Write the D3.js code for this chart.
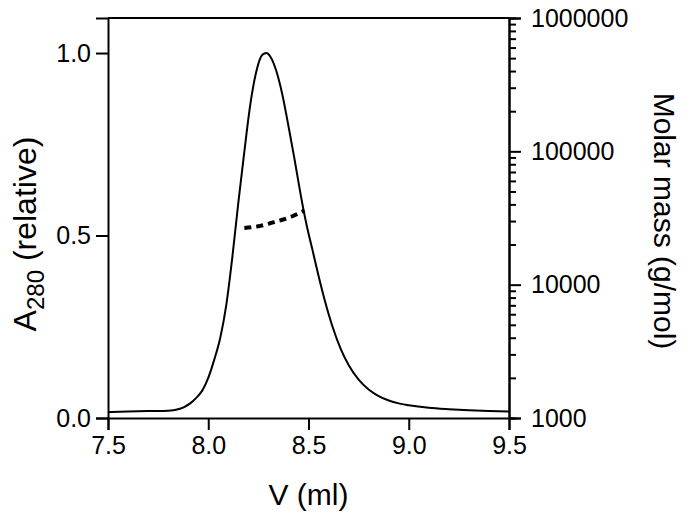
<!DOCTYPE html>
<html>
<head>
<meta charset="utf-8">
<script src="https://cdn.jsdelivr.net/npm/d3@7"></script>
<style>
  body { margin: 0; background: #fff; }
  svg { display: block; font-family: "Liberation Sans", Arial, sans-serif; }
  .axis path, .axis line { stroke: #000; stroke-width: 2px; }
  .axis text { font-size: 25px; fill: #000; }
</style>
</head>
<body>
<div id="chart"></div>
<script>
// DATA
// ------------------------------------------------------------------

// UV trace (A280, relative) vs elution volume
var volume = [7.50, 7.60, 7.70, 7.80, 7.85, 7.88, 7.91, 7.94, 7.97, 8.00,
              8.03, 8.06, 8.09, 8.12, 8.15, 8.18, 8.21, 8.24, 8.27, 8.29,
              8.31, 8.34, 8.37, 8.40, 8.43, 8.46, 8.49, 8.52, 8.55, 8.58,
              8.62, 8.66, 8.70, 8.75, 8.80, 8.85, 8.90, 8.95, 9.00, 9.10,
              9.20, 9.30, 9.40, 9.50];
var absorbance = [0.016, 0.018, 0.019, 0.020, 0.024, 0.030, 0.040, 0.055, 0.075, 0.11,
                  0.16, 0.22, 0.31, 0.44, 0.59, 0.73, 0.86, 0.95, 0.995, 1.0,
                  0.99, 0.95, 0.885, 0.80, 0.71, 0.615, 0.53, 0.46, 0.39, 0.325,
                  0.25, 0.19, 0.145, 0.105, 0.078, 0.060, 0.048, 0.040, 0.035, 0.028,
                  0.024, 0.021, 0.019, 0.018];

// molar mass across the peak
var massVolume = [8.18, 8.22, 8.26, 8.30, 8.34, 8.38, 8.42, 8.46, 8.48];
var molarMass = [26600, 27000, 27600, 28600, 29800, 31000, 32600, 34800, 36000];

var xTicks = [7.5, 8.0, 8.5, 9.0, 9.5];
var yTicks = [0.0, 0.5, 1.0];
var massTicks = [1000, 10000, 100000, 1000000];

// CANVAS
// ------------------------------------------------------------------

var width = 696,
    height = 515;

var margin = { left: 108, right: 187, top: 18, bottom: 97 };

var svg = d3.select("#chart")
    .append("svg")
    .attr("width", width)
    .attr("height", height);

// SCALES
// ------------------------------------------------------------------

var xScale = d3.scaleLinear()
    .domain([7.5, 9.5])
    .range([margin.left, width - margin.right]);

var yScale = d3.scaleLinear()
    .domain([0, 1.096])
    .range([height - margin.bottom, margin.top]);

var massScale = d3.scaleLog()
    .domain([1000, 1000000])
    .range([height - margin.bottom, margin.top]);

// minor ticks for the log axis (2..9 in each decade)
var minorTicks = massScale.ticks().filter(function(d) {
  return massTicks.indexOf(d) < 0;
});

// AXES
// ------------------------------------------------------------------

var x0 = height - margin.bottom,
    xR = width - margin.right;

// top border
svg.append("line")
    .attr("x1", margin.left).attr("x2", xR)
    .attr("y1", margin.top).attr("y2", margin.top)
    .attr("stroke", "#000").attr("stroke-width", 2);

svg.append("g")
    .attr("class", "axis")
    .attr("transform", "translate(0," + x0 + ")")
    .call(d3.axisBottom(xScale)
      .tickValues(xTicks)
      .tickFormat(d3.format(".1f"))
      .tickSizeOuter(0)
      .tickSize(12)
      .tickPadding(6));

svg.append("g")
    .attr("class", "axis")
    .attr("transform", "translate(" + margin.left + ",0)")
    .call(d3.axisLeft(yScale)
      .tickValues(yTicks)
      .tickFormat(d3.format(".1f"))
      .tickSizeOuter(0)
      .tickSize(12)
      .tickPadding(5));

// right log axis: minor ticks first, then majors with labels
svg.append("g")
    .attr("class", "axis")
    .attr("transform", "translate(" + xR + ",0)")
    .call(d3.axisRight(massScale)
      .tickValues(minorTicks)
      .tickFormat("")
      .tickSizeOuter(0)
      .tickSize(7));

svg.append("g")
    .attr("class", "axis")
    .attr("transform", "translate(" + xR + ",0)")
    .call(d3.axisRight(massScale)
      .tickValues(massTicks)
      .tickFormat(d3.format("d"))
      .tickSizeOuter(0)
      .tickSize(12)
      .tickPadding(10));

// axis titles
svg.append("text")
    .attr("x", xScale(8.5))
    .attr("y", 505)
    .attr("text-anchor", "middle")
    .style("font-size", "30px")
    .text("V (ml)");

var yTitle = svg.append("text")
    .attr("transform", "translate(36,234) rotate(-90)")
    .attr("text-anchor", "middle")
    .style("font-size", "32px");
yTitle.append("tspan").text("A");
yTitle.append("tspan").attr("dy", 8).style("font-size", "24px").text("280");
yTitle.append("tspan").attr("dy", -8).text(" (relative)");

svg.append("text")
    .attr("transform", "translate(654,221) rotate(90)")
    .attr("text-anchor", "middle")
    .style("font-size", "30px")
    .text("Molar mass (g/mol)");

// PATHS
// ------------------------------------------------------------------

var uvLine = d3.line()
    .x(function(d, i) { return xScale(volume[i]); })
    .y(function(d) { return yScale(d); })
    .curve(d3.curveMonotoneX);

svg.append("path")
    .attr("d", uvLine(absorbance))
    .attr("fill", "none")
    .attr("stroke", "#000")
    .attr("stroke-width", 2);

var massLine = d3.line()
    .x(function(d, i) { return xScale(massVolume[i]); })
    .y(function(d) { return massScale(d); })
    .curve(d3.curveMonotoneX);

svg.append("path")
    .attr("d", massLine(molarMass))
    .attr("fill", "none")
    .attr("stroke", "#000")
    .attr("stroke-width", 4)
    .attr("stroke-dasharray", "7,5");
</script>
</body>
</html>
